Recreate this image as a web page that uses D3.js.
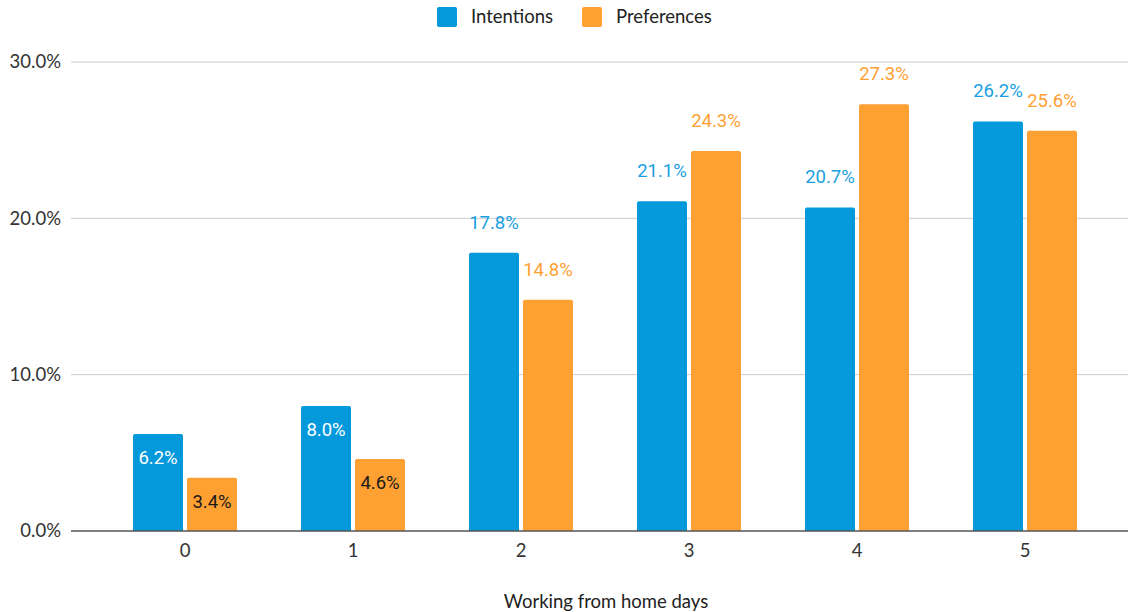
<!DOCTYPE html>
<html>
<head>
<meta charset="utf-8">
<script src="https://cdn.jsdelivr.net/npm/d3@7"></script>
<style>
  html, body { margin: 0; padding: 0; background: #fff; }
  svg { display: block; }
</style>
</head>
<body>
<svg id="chart" width="1128" height="612"></svg>
<script>
// Share of respondents by number of working-from-home days
const categories = ["0", "1", "2", "3", "4", "5"];
const seriesNames = ["Intentions", "Preferences"];
const intentions = [6.2, 8.0, 17.8, 21.1, 20.7, 26.2];
const preferences = [3.4, 4.6, 14.8, 24.3, 27.3, 25.6];
const yTicks = [0, 10, 20, 30];
const xTitle = "Working from home days";

const colors = { Intentions: "#0399DB", Preferences: "#FFA033" };
const labelColors = { Intentions: "#1A9FE0", Preferences: "#FFA033" };
const insideLabelColors = { Intentions: "#ffffff", Preferences: "#1a1a1a" };

const rows = categories.map((c, i) => ({
  cat: c,
  values: [
    { key: "Intentions", value: intentions[i] },
    { key: "Preferences", value: preferences[i] }
  ]
}));

const svg = d3.select("#chart");
const axisFont = "Lato, 'Open Sans', sans-serif";
const labelFont = "Roboto, sans-serif";
const axisSize = 18.5;
const labelSize = 18.5;

const y = d3.scaleLinear().domain([0, 30]).range([531, 62]);
const x0 = d3.scaleBand().domain(categories).range([101, 1109])
  .paddingInner(0.381).paddingOuter(0.1905);
const x1 = d3.scaleBand().domain(seriesNames).range([0, x0.bandwidth()])
  .paddingInner(0.074);

// Gridlines
svg.append("g")
  .selectAll("line")
  .data(yTicks.filter(t => t > 0))
  .join("line")
  .attr("x1", 71).attr("x2", 1128)
  .attr("y1", d => y(d)).attr("y2", d => y(d))
  .attr("stroke", "#cccccc").attr("stroke-width", 1);

// Y tick labels
svg.append("g")
  .selectAll("text")
  .data(yTicks)
  .join("text")
  .attr("x", 61).attr("y", d => y(d))
  .attr("dy", "0.35em")
  .attr("text-anchor", "end")
  .attr("font-family", axisFont).attr("font-size", axisSize)
  .attr("fill", "#333")
  .text(d => d3.format(".1f")(d) + "%");

// Bars
const groups = svg.append("g")
  .selectAll("g")
  .data(rows)
  .join("g")
  .attr("transform", d => `translate(${x0(d.cat)},0)`);

const r = 2;
groups.selectAll("path")
  .data(d => d.values)
  .join("path")
  .attr("fill", d => colors[d.key])
  .attr("d", d => {
    const xl = x1(d.key), w = x1.bandwidth();
    const yt = y(d.value), yb = y(0);
    return `M${xl},${yb}V${yt + r}Q${xl},${yt} ${xl + r},${yt}H${xl + w - r}Q${xl + w},${yt} ${xl + w},${yt + r}V${yb}Z`;
  });

// Value labels: inside the top of short bars, above the taller ones
groups.selectAll("text")
  .data(d => d.values)
  .join("text")
  .attr("x", d => x1(d.key) + x1.bandwidth() / 2)
  .attr("y", d => d.value < 10 ? y(d.value) + 30 : y(d.value) - 24)
  .attr("text-anchor", "middle")
  .attr("font-family", labelFont).attr("font-size", labelSize)
  .attr("fill", d => d.value < 10 ? insideLabelColors[d.key] : labelColors[d.key])
  .text(d => d3.format(".1f")(d.value) + "%");

// Baseline
svg.append("line")
  .attr("x1", 71).attr("x2", 1128)
  .attr("y1", y(0)).attr("y2", y(0))
  .attr("stroke", "#555").attr("stroke-width", 1.5);

// X tick labels
svg.append("g")
  .selectAll("text")
  .data(categories)
  .join("text")
  .attr("x", d => x0(d) + x0.bandwidth() / 2)
  .attr("y", 557)
  .attr("text-anchor", "middle")
  .attr("font-family", axisFont).attr("font-size", axisSize)
  .attr("fill", "#333")
  .text(d => d);

// X axis title
svg.append("text")
  .attr("x", 606).attr("y", 608)
  .attr("text-anchor", "middle")
  .attr("font-family", axisFont).attr("font-size", axisSize)
  .attr("fill", "#222")
  .text(xTitle);

// Legend
const legendItems = [
  { key: "Intentions", x: 437 },
  { key: "Preferences", x: 582 }
];
const legend = svg.append("g")
  .selectAll("g")
  .data(legendItems)
  .join("g")
  .attr("transform", d => `translate(${d.x},7)`);
legend.append("rect")
  .attr("width", 20).attr("height", 20).attr("rx", 2)
  .attr("fill", d => colors[d.key]);
legend.append("text")
  .attr("x", 34).attr("y", 10).attr("dy", "0.35em")
  .attr("font-family", axisFont).attr("font-size", axisSize)
  .attr("fill", "#222")
  .text(d => d.key);
</script>
</body>
</html>
